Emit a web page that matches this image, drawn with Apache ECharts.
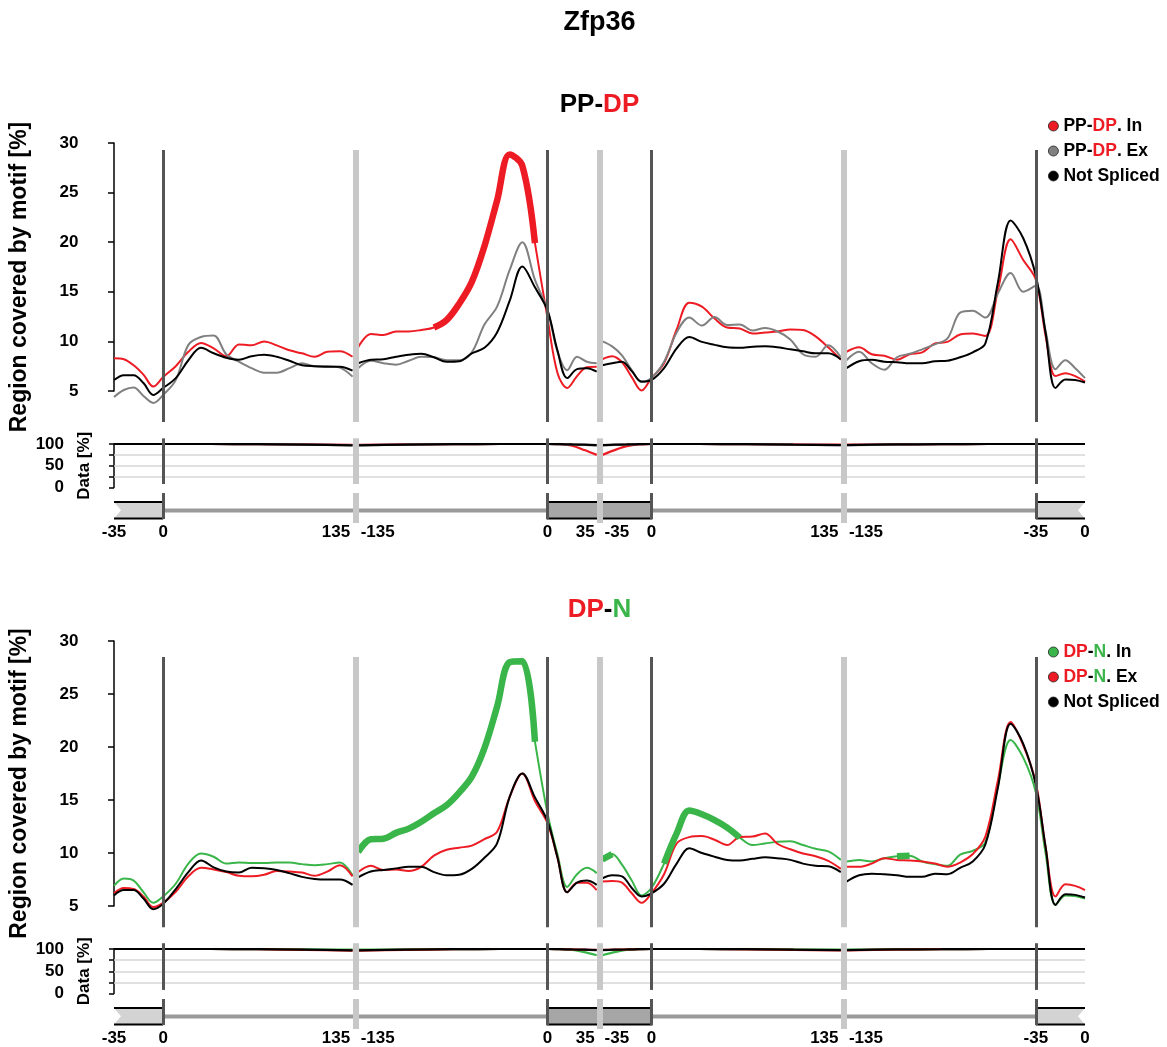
<!DOCTYPE html>
<html>
<head>
<meta charset="utf-8">
<title>Zfp36</title>
<script src="https://cdn.jsdelivr.net/npm/echarts@6.0.0/dist/echarts.min.js"></script>
<style>
html,body{margin:0;padding:0;background:#ffffff;}
#chart{width:1167px;height:1047px;}
</style>
</head>
<body>
<div id="chart"></div>
<script>
// ================= DATA =================
const geneName = 'Zfp36';
// region segments along the x axis: exon end, intron start, intron end, exon start, exon end, intron start, intron end, exon
const segLength = [35, 135, 135, 35, 35, 135, 135, 35];
const segGapAfter = [0, 4, 0, 4, 0, 4, 0, 0];
const segStep = [7, 9, 9, 7, 7, 9, 9, 7];
const tickText = ['-35', '0', '135', '-135', '0', '35', '-35', '0', '135', '-135', '-35', '0'];

// ---- panel 1: PP-DP (region covered by motif, %) ----
const ppdpIn = [
  8.3, 8.2, 7.6, 6.65, 5.45,
  6.4, 7.5, 8.95, 9.85, 9.3, 8.5, 9.7, 9.6, 10.0, 9.6, 9.1, 8.8, 8.45, 8.95, 9.0, 8.45,
  9.4, 10.75, 10.65, 11.0, 11.0, 11.15, 11.4, 12.15, 13.8, 16.0, 19.6, 24.2, 28.85, 27.7, 19.9,
  12.3, 6.85, 5.3, 6.5, 7.4, 7.45,
  8.2, 8.5, 7.9, 6.4, 5.05,
  6.3, 7.8, 11.2, 13.9, 13.5, 12.3, 11.4, 11.3, 10.8, 10.9, 11.0, 11.2, 11.15, 10.5, 9.4, 8.15,
  8.95, 9.4, 8.7, 8.55, 8.15, 8.7, 8.9, 9.8, 9.95, 10.7, 10.8, 10.55, 15.2, 20.3, 18.2,
  16.2, 10.5, 6.5, 6.8, 6.5, 5.95
];
const ppdpEx = [
  4.4, 5.1, 5.35, 4.5, 3.8,
  4.6, 6.1, 9.65, 10.45, 10.6, 8.7, 7.95, 7.3, 6.85, 6.85, 7.3, 7.8, 7.5, 7.5, 7.35, 6.45,
  7.3, 8.05, 7.8, 7.65, 8.05, 8.45, 8.4, 8.1, 8.1, 8.9, 11.7, 13.5, 17.2, 20.0, 16.2,
  13.15, 9.0, 7.1, 8.45, 7.95, 7.8,
  10.0, 9.5, 8.6, 7.1, 5.9,
  6.3, 7.95, 10.9, 12.4, 11.6, 12.45, 11.65, 11.7, 11.1, 11.35, 11.0, 10.2, 8.7, 8.45, 9.6, 8.4,
  8.1, 8.95, 7.8, 7.15, 8.4, 8.75, 9.2, 9.7, 10.3, 12.9, 13.1, 12.4, 14.85, 16.9, 15.0,
  15.6, 11.0, 7.2, 8.1, 7.3, 6.3
];
const ppdpNot = [
  6.1, 6.6, 6.6, 5.8, 4.6,
  5.3, 6.3, 8.1, 9.35, 8.8, 8.35, 8.15, 8.5, 8.65, 8.45, 8.05, 7.6, 7.5, 7.45, 7.45, 7.05,
  7.8, 8.15, 8.2, 8.45, 8.65, 8.75, 8.4, 7.95, 8.0, 8.8, 9.35, 10.9, 14.1, 17.55, 15.45,
  13.1, 9.1, 6.3, 7.2, 7.3, 6.95,
  7.6, 7.8, 7.95, 7.0, 5.95,
  6.1, 7.3, 9.3, 10.45, 9.95, 9.65, 9.4, 9.35, 9.45, 9.5, 9.4, 9.2, 9.0, 8.8, 8.8, 8.2,
  7.3, 8.0, 8.15, 7.95, 7.9, 7.8, 7.8, 8.0, 8.05, 8.4, 8.9, 9.8, 16.0, 22.2, 20.4,
  16.6, 10.8, 5.3, 6.15, 6.1, 5.85
];
// ---- panel 2: DP-N ----
const dpnIn = [
  6.9, 7.6, 7.4, 6.3, 5.3,
  5.9, 7.1, 9.0, 9.95, 9.65, 9.0, 9.1, 9.05, 9.05, 9.1, 9.1, 8.95, 8.85, 8.95, 9.1, 7.9,
  10.1, 11.3, 11.35, 11.9, 12.3, 12.95, 13.75, 14.5, 15.7, 17.2, 19.9, 23.8, 28.0, 28.1, 20.5,
  13.7, 9.9, 6.8, 8.0, 8.6, 8.1,
  9.4, 9.9, 8.9, 7.4, 6.0,
  6.7, 9.0, 11.85, 14.0, 13.65, 13.1, 12.4, 11.45, 10.75, 10.9, 11.05, 11.1, 10.75, 10.4, 10.15, 9.35,
  9.2, 9.35, 9.2, 9.5, 9.7, 9.75, 9.2, 8.95, 8.8, 9.85, 10.2, 11.0, 16.4, 20.65, 19.0,
  15.7, 9.9, 5.1, 6.0, 5.95, 5.7
];
const dpnEx = [
  6.2, 6.7, 6.6, 5.9, 4.9,
  5.3, 6.35, 7.8, 8.6, 8.45, 8.2, 7.85, 7.8, 7.95, 8.3, 8.25, 8.15, 7.85, 8.25, 8.85, 7.8,
  8.2, 8.8, 8.4, 8.45, 8.3, 8.7, 9.75, 10.3, 10.5, 10.7, 11.3, 12.0, 15.3, 17.5, 14.9,
  12.8, 9.6, 6.3, 7.2, 7.2, 6.5,
  7.3, 7.35, 7.2, 6.2, 5.3,
  6.2, 8.0, 10.9, 11.5, 11.6, 11.25, 10.75, 11.5, 11.55, 11.85, 10.85, 10.35, 9.95, 9.7, 9.25, 8.5,
  8.7, 8.7, 9.0, 9.5, 9.35, 9.3, 9.2, 9.0, 8.7, 9.1, 9.9, 11.55, 16.9, 22.35, 20.15,
  16.6, 10.5, 5.9, 7.05, 6.9, 6.5
];
const dpnNot = [
  6.0, 6.5, 6.5, 5.7, 4.7,
  5.2, 6.6, 8.2, 9.3, 8.65, 8.25, 8.15, 8.6, 8.55, 8.4, 8.1, 7.75, 7.55, 7.5, 7.5, 7.0,
  7.7, 8.25, 8.4, 8.55, 8.7, 8.7, 8.2, 7.9, 7.95, 8.5, 9.55, 10.9, 15.3, 17.5, 15.25,
  13.0, 9.6, 6.3, 7.2, 7.4, 7.0,
  7.6, 7.9, 7.8, 6.7, 5.9,
  6.2, 7.1, 9.0, 10.45, 10.0, 9.65, 9.35, 9.3, 9.45, 9.6, 9.5, 9.35, 9.0, 8.8, 8.75, 8.2,
  7.3, 7.9, 8.05, 8.0, 7.9, 7.75, 7.75, 8.05, 8.0, 8.6, 9.2, 10.8, 16.2, 22.2, 20.3,
  16.4, 10.5, 5.1, 6.1, 6.05, 5.8
];
// significant stretches drawn thick: [segment index, from offset, to offset]
const sigPpdpIn = [[2, 54, 126]];
const sigDpnIn = [[2, 0, 126], [4, 0, 7], [5, 9, 63], [6, 36, 45]];

// ---- data coverage (%), sampled at quarter points of each segment ----
const covPpdpIn  = [100,100,100,100, 100,100,99.5,99,98, 98,99,99.5,100, 100,99.5,96,86,75, 75,86,95,99, 100,100,99.5,99,98.5, 98.5,99,99.5,100, 100,100,100,100,100];
const covPpdpEx  = [100,100,100,100, 100,100,99.5,98.5,97.5, 97.5,98.5,99.5,100, 100,99.5,99,98,97, 97,98,99,99.5, 100,100,99.5,98.5,97.5, 97.5,98.5,99.5,100, 100,100,100,100,100];
const covPpdpNot = [100,100,100,100, 100,100,99.5,98.5,97, 97,98.5,99.5,100, 100,99.5,99,98.5,97.5, 97.5,98.5,99,99.5, 100,100,99.5,98.5,97.5, 97.5,99,99.5,100, 100,100,100,100,100];
const covDpnIn   = [100,100,100,100, 100,100,99.5,99,98.5, 98.5,99,99.5,100, 100,99.5,98,93,86, 86,93,98,99.5, 100,100,99.5,99,98.5, 98.5,99,99.5,100, 100,100,100,100,100];
const covDpnEx   = [100,100,100,100, 100,100,99.5,98,96.5, 96.5,98,99.5,100, 100,99.5,99,98.5,98, 98,98.5,99,99.5, 100,100,99,98,97, 97,98.5,99.5,100, 100,100,100,100,100];
const covDpnNot  = [100,100,100,100, 100,100,99.5,98.5,97, 97,98.5,99.5,100, 100,99.5,99,98.5,97.5, 97.5,98.5,99,99.5, 100,100,99.5,98.5,97.5, 97.5,99,99.5,100, 100,100,100,100,100];

// exon boxes: [first segment, last segment, shape (0 notch left, 1 box, 2 notch right), fill (0 light, 1 dark)]
const exonSegs = [[0, 0, 0, 0], [3, 4, 1, 1], [7, 7, 2, 0]];

// ================= STYLE / LAYOUT =================
const FONT = '"Liberation Sans", Arial, Helvetica, sans-serif';
const RED = '#ED1C24', GRAY = '#808080', BLACK = '#000000', GREEN = '#3AB54A';
const DARKV = '#555555', LIGHTV = '#C8C8C8';
const GRID_L = 114, GRID_W = 971;
const GENE = { boxTop: 0.636, boxBot: 0.136, intron: 0.379, darkTop: 0.91, darkBot: 0.12, lightTop: 0.91, lightBot: 0.0 };
const COV_V = [113, 8];
const layouts = [
  { mainTop: 143, ppu: 9.92, vTop: 29.3, vBot: 1.87, covTop: 444, covH: 43.5, geneTop: 490, geneH: 33, titleTop: 92, legendTop: 117 },
  { mainTop: 641, ppu: 10.6, vTop: 28.5, vBot: 3.0, covTop: 949, covH: 44.5, geneTop: 996, geneH: 33, titleTop: 597, legendTop: 643 }
];

// ================= BUILD =================
const lastSeg = segLength.length - 1;
const segStart = [];
let acc = 0;
segLength.forEach((len, i) => { segStart.push(acc); acc += len + segGapAfter[i]; });
const xMax = acc;

function positions(stepOf) {
  const out = [];
  segLength.forEach((len, i) => {
    const step = stepOf(i);
    const n = Math.round(len / step);
    for (let k = 0; k <= n; k++) {
      if (k === n && i < lastSeg && segGapAfter[i] === 0) break;
      out.push({ x: segStart[i] + k * step, seg: i, off: k * step });
    }
    if (segGapAfter[i] > 0) out.push({ x: segStart[i] + len + segGapAfter[i] / 2, brk: true });
  });
  return out;
}
const mainPos = positions(i => segStep[i]);
const covPos = positions(i => segLength[i] / 4);

function toXY(values, pos, filter) {
  let j = 0;
  return pos.map(p => {
    if (p.brk) return [p.x, null];
    const v = values[j++];
    if (filter && !filter(p)) return [p.x, null];
    return [p.x, v];
  });
}
function sigFilter(ranges) {
  return p => ranges.some(r => p.seg === r[0] && p.off >= r[1] - 1e-9 && p.off <= r[2] + 1e-9);
}

const darkX = [], lightX = [];
segLength.forEach((len, i) => {
  if (i > 0 && segGapAfter[i - 1] === 0) darkX.push(segStart[i]);
  if (segGapAfter[i] > 0) lightX.push(segStart[i] + len + segGapAfter[i] / 2);
});
function vLines(yTop, yBot, lightTop, lightBot) {
  const d = [];
  darkX.forEach(x => d.push([{ coord: [x, yTop], lineStyle: { color: DARKV, width: 3, type: 'solid' } }, { coord: [x, yBot] }]));
  lightX.forEach(x => d.push([{ coord: [x, lightTop == null ? yTop : lightTop], lineStyle: { color: LIGHTV, width: 6, type: 'solid' } },
                              { coord: [x, lightBot == null ? yBot : lightBot] }]));
  return { silent: true, symbol: ['none', 'none'], label: { show: false }, emphasis: { disabled: true }, animation: false, data: d };
}

// tick positions
const tickPos = [], tickAlign = [];
segLength.forEach((len, i) => {
  const s = segStart[i];
  if (i === 0) { tickPos.push(s); tickAlign.push('c'); }
  else if (segGapAfter[i - 1] > 0) { tickPos.push(s); tickAlign.push('l'); }
  else { tickPos.push(s); tickAlign.push('c'); }
  if (segGapAfter[i] > 0) { tickPos.push(s + len); tickAlign.push('r'); }
  else if (i === lastSeg) { tickPos.push(s + len); tickAlign.push('c'); }
});
const mctx = document.createElement('canvas').getContext('2d');
mctx.font = 'bold 17px "Liberation Sans", Arial, sans-serif';
const tickRich = {};
tickText.forEach((t, i) => {
  const w = Math.ceil(mctx.measureText(t).width) + 4;
  const st = { fontSize: 17, fontWeight: 'bold', color: '#000', fontFamily: FONT };
  if (tickAlign[i] === 'r') st.padding = [0, w, 0, 0];
  if (tickAlign[i] === 'l') st.padding = [0, 0, 0, w];
  tickRich['t' + i] = st;
});

const richBase = { fontWeight: 'bold', fontFamily: FONT };
const legendLabel = {
  'PP-DP. In': '{k|PP-}{r|DP}{k|. In}',
  'PP-DP. Ex': '{k|PP-}{r|DP}{k|. Ex}',
  'Not Spliced': '{k|Not Spliced}',
  'DP-N. In': '{r|DP}{k|-}{g|N}{k|. In}',
  'DP-N. Ex': '{r|DP}{k|-}{g|N}{k|. Ex}'
};
const legendRich = {
  k: Object.assign({ fontSize: 17.5, color: '#000' }, richBase),
  r: Object.assign({ fontSize: 17.5, color: RED }, richBase),
  g: Object.assign({ fontSize: 17.5, color: GREEN }, richBase)
};
const titleRich = {
  k: Object.assign({ fontSize: 26, color: '#000' }, richBase),
  r: Object.assign({ fontSize: 26, color: RED }, richBase),
  g: Object.assign({ fontSize: 26, color: GREEN }, richBase)
};

const panels = [
  { title: '{k|PP-}{r|DP}', names: ['PP-DP. In', 'PP-DP. Ex', 'Not Spliced'], colors: [RED, GRAY, BLACK],
    lines: [ppdpIn, ppdpEx, ppdpNot], cov: [covPpdpIn, covPpdpEx, covPpdpNot], sig: sigPpdpIn },
  { title: '{r|DP}{k|-}{g|N}', names: ['DP-N. In', 'DP-N. Ex', 'Not Spliced'], colors: [GREEN, RED, BLACK],
    lines: [dpnIn, dpnEx, dpnNot], cov: [covDpnIn, covDpnEx, covDpnNot], sig: sigDpnIn }
];

const option = {
  animation: false,
  backgroundColor: '#ffffff',
  textStyle: { fontFamily: FONT },
  title: [{ text: geneName, left: GRID_L + GRID_W / 2, textAlign: 'center', top: 9, padding: 0,
            textStyle: { fontSize: 27, fontWeight: 'bold', color: '#000', fontFamily: FONT } }],
  legend: [], grid: [], xAxis: [], yAxis: [], series: []
};

panels.forEach((P, p) => {
  const Lo = layouts[p];
  const g0 = option.grid.length;
  const cppu = Lo.covH / 100;
  option.grid.push({ left: GRID_L, width: GRID_W, top: Lo.mainTop, height: 30 * Lo.ppu });            // main data
  option.grid.push({ left: GRID_L, width: GRID_W, top: Lo.mainTop, height: 25 * Lo.ppu });            // main axis
  option.grid.push({ left: GRID_L, width: GRID_W, top: Lo.covTop - 20 * cppu, height: 120 * cppu });   // coverage data
  option.grid.push({ left: GRID_L, width: GRID_W, top: Lo.covTop, height: Lo.covH });                  // coverage axis
  option.grid.push({ left: GRID_L, width: GRID_W, top: Lo.geneTop, height: Lo.geneH });                // gene model

  for (let k = 0; k < 5; k++) {
    const xa = { gridIndex: g0 + k, type: 'value', min: 0, max: xMax, show: false, splitLine: { show: false } };
    if (k === 4) {
      Object.assign(xa, {
        show: true, axisLine: { show: false }, axisTick: { show: false },
        axisLabel: {
          show: true, margin: 1, customValues: tickPos, fontSize: 17, fontWeight: 'bold', color: '#000',
          formatter: v => { const i = tickPos.findIndex(t => Math.abs(t - v) < 1e-6); return i < 0 ? '' : '{t' + i + '|' + tickText[i] + '}'; },
          rich: tickRich, hideOverlap: false
        }
      });
    }
    option.xAxis.push(xa);
  }
  // y axes
  option.yAxis.push({ gridIndex: g0, type: 'value', min: 0, max: 30, show: false, splitLine: { show: false } });
  option.yAxis.push({
    gridIndex: g0 + 1, type: 'value', min: 5, max: 30, interval: 5, offset: 25.5,
    axisLine: { show: true, lineStyle: { color: '#000', width: 1.5 } },
    axisTick: { show: true, length: 6, lineStyle: { color: '#000', width: 1.5 } },
    axisLabel: { fontSize: 17, fontWeight: 'bold', color: '#000', margin: 10 },
    splitLine: { show: false },
    name: 'Region covered by motif [%]', nameLocation: 'middle', nameGap: 57, nameMoveOverlap: false,
    nameTextStyle: { fontSize: 23, fontWeight: 'bold', color: '#000', padding: [0, 20, 0, 0] }
  });
  option.yAxis.push({ gridIndex: g0 + 2, type: 'value', min: 0, max: 120, show: false, splitLine: { show: false } });
  option.yAxis.push({
    gridIndex: g0 + 3, type: 'value', min: 0, max: 100, interval: 25, offset: 43,
    axisLine: { show: true, lineStyle: { color: '#000', width: 1.5 } },
    axisTick: { show: true, length: 5, lineStyle: { color: '#000', width: 1.5 } },
    axisLabel: { fontSize: 17, fontWeight: 'bold', color: '#000', margin: 7, formatter: v => (v % 50 === 0 ? String(v) : '') },
    splitLine: { show: false },
    name: 'Data [%]', nameLocation: 'middle', nameGap: -22, nameMoveOverlap: false,
    nameTextStyle: { fontSize: 17, fontWeight: 'bold', color: '#000' }
  });
  option.yAxis.push({ gridIndex: g0 + 4, type: 'value', min: 0, max: 1, show: false, splitLine: { show: false } });

  // main lines
  P.lines.forEach((vals, s) => {
    const ser = {
      name: P.names[s], type: 'line', xAxisIndex: g0, yAxisIndex: g0,
      data: toXY(vals, mainPos), showSymbol: false, symbol: 'none', smooth: 0.35, connectNulls: false,
      lineStyle: { color: P.colors[s], width: 2 }, itemStyle: { color: P.colors[s] }, emphasis: { disabled: true }, z: 2 + s * 0.1
    };
    if (s === 0) ser.markLine = vLines(Lo.vTop, Lo.vBot);
    option.series.push(ser);
  });
  option.series.push({
    name: P.names[0] + ' (significant)', type: 'line', xAxisIndex: g0, yAxisIndex: g0,
    data: toXY(P.lines[0], mainPos, sigFilter(P.sig)), showSymbol: false, symbol: 'none', smooth: 0.35,
    lineStyle: { color: P.colors[0], width: 6.5, cap: 'butt' }, itemStyle: { color: P.colors[0] }, emphasis: { disabled: true }, z: 3
  });

  // coverage
  P.cov.forEach((vals, s) => {
    const ser = {
      name: P.names[s] + ' (data)', type: 'line', xAxisIndex: g0 + 2, yAxisIndex: g0 + 2,
      data: toXY(vals, covPos), showSymbol: false, symbol: 'none', smooth: 0.3,
      lineStyle: { color: P.colors[s], width: 2.2 }, itemStyle: { color: P.colors[s] }, emphasis: { disabled: true }, z: 2 + s * 0.1
    };
    if (s === 0) ser.markLine = { silent: true, z: 1, symbol: ['none', 'none'], label: { show: false }, animation: false,
      lineStyle: { color: '#D6D6D6', width: 1.5, type: 'solid' }, data: [{ yAxis: 25 }, { yAxis: 50 }, { yAxis: 75 }] };
    if (s === 1) ser.markLine = vLines(COV_V[0], COV_V[1]);
    option.series.push(ser);
  });

  // gene model: introns + exons
  const intronData = [];
  for (let e = 0; e < exonSegs.length - 1; e++) {
    const a = segStart[exonSegs[e][1]] + segLength[exonSegs[e][1]];
    const b = segStart[exonSegs[e + 1][0]];
    intronData.push([a, GENE.intron], [b, GENE.intron], [b, null]);
  }
  option.series.push({
    name: 'intron', type: 'line', xAxisIndex: g0 + 4, yAxisIndex: g0 + 4, data: intronData,
    showSymbol: false, symbol: 'none', lineStyle: { color: '#9A9A9A', width: 4 }, emphasis: { disabled: true }, z: 1,
    markLine: vLines(GENE.darkTop, GENE.darkBot, GENE.lightTop, GENE.lightBot)
  });
  option.series.push({
    name: 'exons', type: 'custom', xAxisIndex: g0 + 4, yAxisIndex: g0 + 4, z: 2, silent: true,
    data: exonSegs.map(e => [segStart[e[0]], segStart[e[1]] + segLength[e[1]], e[2], e[3]]),
    encode: { x: [0, 1] },
    renderItem: (params, api) => {
      const a = api.coord([api.value(0), GENE.boxTop]);
      const b = api.coord([api.value(1), GENE.boxBot]);
      const kind = api.value(2);
      const fill = api.value(3) ? '#A6A6A6' : '#D3D3D3';
      const left = a[0], right = b[0], top = a[1], bot = b[1], mid = (top + bot) / 2, n = 7;
      let pts;
      if (kind === 0) pts = [[left, top], [right, top], [right, bot], [left, bot], [left + n, mid]];
      else if (kind === 2) pts = [[left, top], [right, top], [right - n, mid], [right, bot], [left, bot]];
      else pts = [[left, top], [right, top], [right, bot], [left, bot]];
      const children = [{ type: 'polygon', shape: { points: pts }, style: { fill: fill, stroke: kind === 1 ? '#000' : null, lineWidth: 2 } }];
      if (kind !== 1) {
        children.push({ type: 'line', shape: { x1: left, y1: top, x2: right, y2: top }, style: { stroke: '#000', lineWidth: 2 } });
        children.push({ type: 'line', shape: { x1: left, y1: bot, x2: right, y2: bot }, style: { stroke: '#000', lineWidth: 2 } });
      }
      return { type: 'group', children: children };
    }
  });

  // title + legend
  option.title.push({ text: P.title, left: GRID_L + GRID_W / 2, textAlign: 'center', top: Lo.titleTop, padding: 0,
    textStyle: { fontSize: 26, fontWeight: 'bold', rich: titleRich } });
  option.legend.push({
    data: P.names.map((nm, s) => ({ name: nm, icon: 'circle', itemStyle: { color: P.colors[s], borderColor: '#222', borderWidth: 0.8 } })),
    orient: 'vertical', left: 1048, top: Lo.legendTop, padding: 0, itemGap: 7, itemWidth: 10, itemHeight: 10,
    selectedMode: false,
    formatter: nm => legendLabel[nm],
    textStyle: { fontSize: 17.5, fontWeight: 'bold', color: '#000', rich: legendRich }
  });
});

const chart = echarts.init(document.getElementById('chart'), null, { renderer: 'canvas' });
chart.setOption(option);
</script>
</body>
</html>
